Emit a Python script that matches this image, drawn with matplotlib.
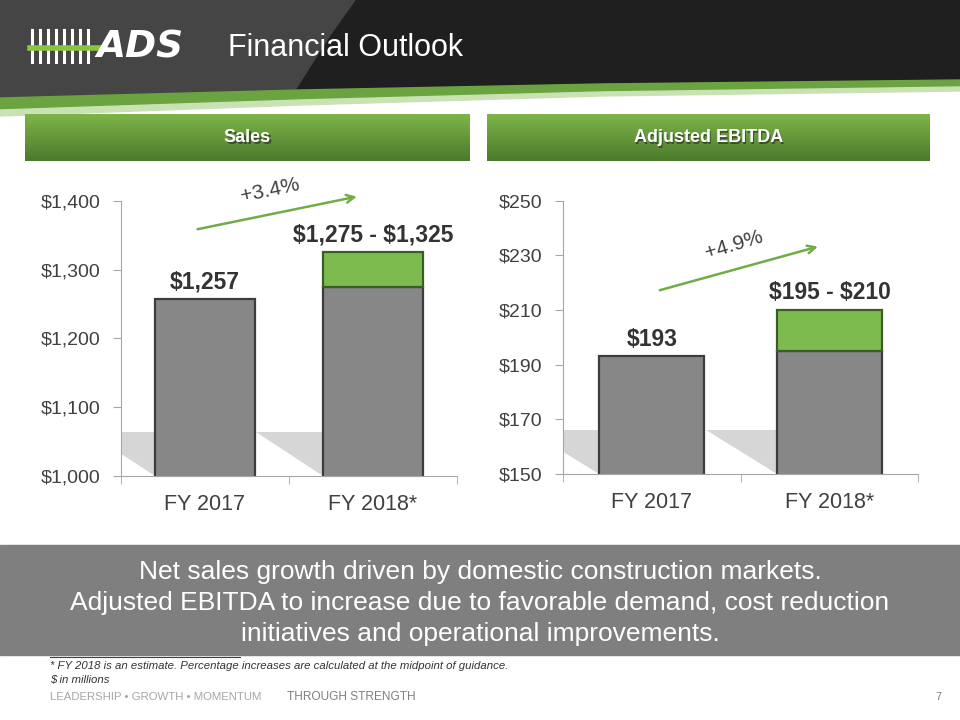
import numpy as np
import matplotlib.pyplot as plt
from matplotlib.patches import Rectangle, Polygon
from matplotlib.colors import LinearSegmentedColormap

# data ($ in millions)
categories = ['FY 2017', 'FY 2018*']
sales_base = [1257, 1275]
sales_range = [0, 50]          # 1,275 - 1,325 guidance
sales_labels = ['$1,257', '$1,275 - $1,325']
sales_ticks = [1000, 1100, 1200, 1300, 1400]
ebitda_base = [193, 195]
ebitda_range = [0, 15]         # 195 - 210 guidance
ebitda_labels = ['$193', '$195 - $210']
ebitda_ticks = [150, 170, 190, 210, 230, 250]

plt.rcParams['font.family'] = ['Liberation Sans', 'DejaVu Sans']

fig = plt.figure(figsize=(9.6, 7.2), dpi=100)
fig.patch.set_facecolor('white')

# background / slide decoration
bg = fig.add_axes([0, 0, 1, 1])
bg.set_xlim(0, 960)
bg.set_ylim(720, 0)
bg.axis('off')

# dark header band with lighter left part
bg.add_patch(Polygon([[0, 0], [960, 0], [960, 80], [600, 84], [300, 90], [0, 98]],
                     closed=True, color='#1f1f1f', zorder=0))
bg.add_patch(Polygon([[0, 0], [355, 0], [330, 35], [295, 90], [0, 98]],
                     closed=True, color='#454545', zorder=1))
bg.add_patch(Polygon([[0, 98], [300, 90], [600, 84], [960, 80], [960, 87],
                      [600, 92], [300, 100], [0, 110]],
                     closed=True, color='#6aa33f', zorder=1))
bg.add_patch(Polygon([[0, 110], [300, 100], [600, 92], [960, 87], [960, 91],
                      [600, 96], [300, 105], [0, 116]],
                     closed=True, color='#c9e2b4', zorder=1))

# logo
for i in range(8):
    bg.plot([32 + i * 8, 32 + i * 8], [30, 62], color='white', lw=2.2, zorder=2)
bg.plot([30, 105], [48, 48], color='#8cc63f', lw=4, zorder=3)
bg.text(96, 47, 'ADS', color='white', fontsize=27, fontweight='bold',
        fontstyle='italic', va='center', ha='left', zorder=4,
        family=['DejaVu Sans'])
bg.text(228, 48, 'Financial Outlook', color='white', fontsize=22,
        va='center', ha='left')

# green section headers
grad = np.linspace(0, 1, 50).reshape(-1, 1)
gcmap = LinearSegmentedColormap.from_list('g', ['#7db549', '#4c7a2c'])
for x0, x1, title in [(25, 470, 'Sales'), (487, 930, 'Adjusted EBITDA')]:
    bg.imshow(grad, cmap=gcmap, extent=[x0, x1, 161, 114], aspect='auto', zorder=1)
    bg.text((x0 + x1) / 2 + 1.5, 139.5, title, color='#222222', fontsize=13,
            fontweight='bold', ha='center', va='center', alpha=0.6)
    bg.text((x0 + x1) / 2, 138, title, color='white', fontsize=13,
            fontweight='bold', ha='center', va='center')

# bottom gray band
bg.add_patch(Rectangle((0, 545), 960, 110, color='#7f7f7f', zorder=0))
bg.text(480, 603, 'Net sales growth driven by domestic construction markets.\n'
        'Adjusted EBITDA to increase due to favorable demand, cost reduction\n'
        'initiatives and operational improvements.',
        color='white', fontsize=19, ha='center', va='center', linespacing=1.36)

# footnotes
bg.plot([50, 240], [657, 657], color='#404040', lw=0.8)
bg.text(50, 666, '* FY 2018 is an estimate. Percentage increases are calculated at the midpoint of guidance.',
        fontsize=8.2, fontstyle='italic', color='#333333', va='center')
bg.text(50, 680, '$ in millions', fontsize=8.2, fontstyle='italic', color='#333333', va='center')
bg.text(50, 697, 'LEADERSHIP \u2022 GROWTH \u2022 MOMENTUM', fontsize=8.2, color='#a6a6a6', va='center')
bg.text(287, 697, 'THROUGH STRENGTH', fontsize=8.6, color='#808080', va='center')
bg.text(935, 697, '7', fontsize=8, color='#808080', va='center')


def draw_chart(ax, base, rng, labels, ticks, arrow, pct, pct_xy, pct_rot):
    x = np.arange(len(categories))
    w = 0.59
    ylo, yhi = ticks[0], ticks[-1]
    ax.set_xlim(-0.5, 1.5)
    ax.set_ylim(ylo, yhi)
    span = yhi - ylo
    # soft shadows to the left of bars
    for xi in x:
        ax.add_patch(Polygon([[xi - w / 2 - 0.4, ylo + span * 0.16],
                              [xi - w / 2, ylo + span * 0.16],
                              [xi - w / 2, ylo]],
                             closed=True, color='#d6d6d6', lw=0, zorder=1))
    ax.bar(x, base, width=w, bottom=0, color='#878787', edgecolor='#3d3d3d',
           lw=1.6, zorder=2)
    tops = [b + r for b, r in zip(base, rng)]
    ax.bar(x[1], rng[1], width=w, bottom=base[1], color='#7dbb4f',
           edgecolor='#3b5e24', lw=1.6, zorder=3)
    for xi, t, lab in zip(x, tops, labels):
        ax.annotate(lab.replace('$', r'\$'), (xi, t), xytext=(0, 4),
                    textcoords='offset points', ha='center', va='bottom',
                    fontsize=16.5, fontweight='bold', color='#333333',
                    annotation_clip=False)
    ax.annotate('', xy=arrow[1], xytext=arrow[0],
                arrowprops=dict(arrowstyle='->', color='#70ad47', lw=1.8,
                                mutation_scale=14),
                annotation_clip=False)
    ax.text(pct_xy[0], pct_xy[1], pct, rotation=pct_rot, fontsize=15,
            color='#404040', ha='center', va='center', clip_on=False)
    ax.set_yticks(ticks)
    ax.set_yticklabels([rf'\${t:,.0f}' for t in ticks])
    ax.set_xticks(x)
    ax.set_xticklabels(categories)
    ax.set_xticks([-0.5, 0.5, 1.5], minor=True)
    ax.tick_params(axis='x', which='major', length=0, pad=13, labelsize=15.5,
                   labelcolor='#404040')
    ax.tick_params(axis='x', which='minor', length=6, color='#a6a6a6')
    ax.tick_params(axis='y', length=6, color='#a6a6a6', labelsize=14,
                   labelcolor='#404040', pad=9)
    for s in ['top', 'right']:
        ax.spines[s].set_visible(False)
    for s in ['left', 'bottom']:
        ax.spines[s].set_color('#a6a6a6')
    ax.patch.set_alpha(0)


ax1 = fig.add_axes([0.126, 0.339, 0.350, 0.382])
draw_chart(ax1, sales_base, sales_range, sales_labels, sales_ticks,
           [(-0.06, 1358), (0.92, 1407)], '+3.4%', (0.39, 1415), 12)

ax2 = fig.add_axes([0.5865, 0.342, 0.370, 0.379])
draw_chart(ax2, ebitda_base, ebitda_range, ebitda_labels, ebitda_ticks,
           [(0.03, 217), (0.95, 233.5)], '+4.9%', (0.46, 234), 17)

fig.savefig('out.png', dpi=100)
